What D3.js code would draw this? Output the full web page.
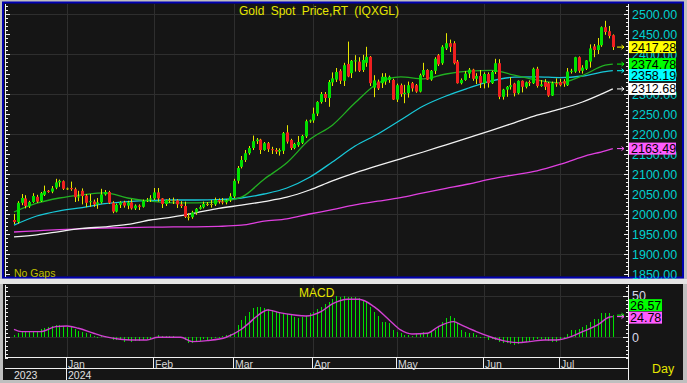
<!DOCTYPE html>
<html>
<head>
<meta charset="utf-8">
<script src="https://cdn.jsdelivr.net/npm/d3@7"></script>
<style>
  body { margin: 0; background: #bfbfbf; overflow: hidden; }
  svg { display: block; font-family: Arial, 'Liberation Sans', sans-serif; }
</style>
</head>
<body>
<div id="chart"></div>
<script>
// ---- data ----
const open = [1985,1980,2028,2039,2019,2030,2043,2032,2048,2058,2056,2066,2079,2082,2063,2065,2062,2042,2058,2046,
  2030,2031,2024,2029,2049,2055,2028,2006,2023,2029,2021,2029,2014,2021,2018,2033,2036,2039,2054,2039,
  2025,2035,2034,2034,2024,2020,1993,1992,2004,2013,2017,2025,2025,2024,2035,2031,2029,2034,2044,2083,
  2118,2135,2152,2165,2182,2186,2160,2177,2162,2160,2156,2158,2204,2185,2165,2172,2178,2194,2232,2234,
  2251,2280,2300,2290,2329,2336,2358,2333,2375,2352,2382,2381,2360,2378,2393,2316,2331,2327,2331,2335,
  2335,2286,2322,2300,2302,2327,2322,2306,2347,2360,2336,2358,2397,2377,2414,2427,2427,2381,2327,2335,
  2351,2361,2338,2345,2327,2350,2327,2355,2377,2293,2311,2318,2326,2302,2333,2318,2330,2327,2363,2320,
  2330,2327,2296,2327,2330,2332,2322,2356,2356,2392,2358,2363,2381,2419,2410,2422,2467,2457,2447];
const high = [2000,2032,2050,2047,2033,2052,2048,2055,2071,2060,2070,2088,2086,2084,2066,2081,2066,2058,2064,2050,
  2050,2036,2040,2063,2060,2058,2032,2026,2032,2033,2033,2037,2024,2024,2036,2040,2047,2065,2065,2040,
  2036,2040,2041,2037,2032,2031,2002,2008,2015,2022,2031,2030,2035,2041,2039,2040,2037,2052,2088,2120,
  2145,2160,2170,2196,2190,2188,2180,2180,2168,2165,2164,2205,2222,2188,2178,2195,2198,2236,2236,2266,
  2282,2305,2305,2335,2354,2365,2362,2378,2431,2385,2397,2392,2398,2418,2395,2347,2336,2352,2352,2346,
  2338,2326,2326,2323,2331,2330,2325,2351,2378,2362,2360,2392,2400,2422,2452,2436,2432,2385,2339,2357,
  2365,2363,2352,2360,2354,2354,2358,2388,2387,2313,2320,2342,2328,2334,2334,2331,2334,2366,2368,2335,
  2337,2330,2331,2339,2338,2337,2365,2363,2393,2394,2372,2385,2424,2425,2440,2469,2483,2470,2449];
const low = [1975,1976,2022,2014,2015,2028,2028,2030,2045,2053,2052,2062,2068,2060,2060,2058,2030,2032,2024,2017,
  2018,2018,2013,2026,2046,2025,2002,2004,2015,2016,2012,2011,2010,2010,2016,2030,2030,2035,2031,2015,
  2020,2028,2025,2015,2015,1990,1984,1988,1998,2011,2014,2020,2016,2020,2026,2024,2024,2030,2040,2076,
  2114,2130,2148,2160,2175,2150,2158,2155,2150,2150,2146,2150,2176,2160,2162,2168,2175,2190,2228,2228,
  2245,2276,2280,2268,2320,2330,2325,2320,2342,2340,2356,2355,2355,2368,2320,2292,2310,2315,2323,2328,
  2285,2280,2293,2277,2291,2306,2303,2304,2343,2335,2333,2350,2370,2373,2410,2405,2374,2326,2324,2333,
  2340,2333,2325,2315,2314,2316,2325,2350,2287,2286,2293,2311,2294,2299,2304,2314,2320,2325,2316,2318,
  2310,2293,2295,2318,2319,2318,2320,2351,2353,2353,2351,2360,2366,2392,2400,2418,2448,2439,2410];
const close = [1980,2028,2040,2020,2030,2045,2031,2052,2057,2055,2064,2079,2083,2063,2064,2062,2042,2044,2045,2028,
  2032,2024,2029,2049,2055,2028,2006,2023,2029,2021,2029,2014,2021,2018,2033,2036,2039,2054,2039,2025,
  2035,2034,2034,2024,2020,1993,1992,2004,2013,2017,2025,2025,2024,2035,2031,2029,2034,2044,2083,2115,
  2135,2152,2165,2182,2186,2160,2177,2162,2160,2156,2160,2202,2181,2165,2175,2180,2195,2232,2234,2251,
  2280,2300,2290,2330,2339,2355,2333,2372,2344,2383,2384,2358,2385,2393,2327,2334,2314,2343,2343,2343,
  2286,2322,2300,2303,2322,2314,2306,2347,2360,2336,2358,2388,2374,2418,2427,2418,2377,2327,2335,2351,
  2361,2338,2345,2327,2350,2327,2355,2377,2293,2311,2318,2322,2302,2333,2318,2329,2327,2363,2320,2324,
  2318,2296,2327,2324,2322,2326,2356,2358,2392,2358,2366,2384,2414,2410,2422,2467,2455,2445,2417.28];

// moving averages, read at these bar positions
const maIdx = [0,6,12,18,24,30,36,42,48,54,60,66,72,78,84,90,96,102,108,114,120,126,132,138,144,150,156,158];
const maGreen = [2005,2027,2040,2048,2053,2040,2032,2028,2028,2031,2042,2087,2128,2186,2222,2278,2327,2343,2338,2350,2357,2359,2347,2335,2328,2346,2372,2374.78];
const maCyan = [1972,1995,2008,2016,2026,2031,2034,2035,2035,2036,2040,2050,2065,2092,2130,2170,2200,2235,2270,2295,2315,2333,2342,2343,2341,2345,2356,2358.19];
const maWhite = [1943,1948,1956,1964,1968,1974,1985,1993,2003,2014,2022,2031,2042,2060,2083,2103,2121,2138,2155,2173,2191,2209,2228,2247,2262,2280,2304,2312.68];
const maMagenta = [1955,1958,1961,1963,1965,1966,1967,1968,1968,1969,1972,1982,1988,2000,2011,2023,2032,2041,2053,2064,2075,2088,2098,2108,2124,2143,2158,2163.49];

// MACD histogram (one per bar) and signal line
const macd = [2.8,4.8,6.8,6.8,6.8,6.8,6.8,9.6,10.8,12.8,
  14,14.8,14.8,14,12.8,12,10,8,6,4.8,
  3.6,1.6,0,1.6,1.6,0.8,-3.2,-3.2,-2.4,-5.2,
  -3.2,-5.2,-4.4,-4.4,-3.2,-2.4,-1.6,0,2.8,1.6,
  1.6,1.6,1.6,0.8,-1.2,-3.2,-6.4,-7.2,-5.2,-4,
  -2.4,-3.2,-2.4,0,0.8,1.6,2.8,4,6.8,14.8,
  20.8,25.6,30.8,34.8,36.8,36,34.8,33.6,32.8,30.8,
  28.8,28.8,28,26.8,24.8,22.8,24,25.6,28.8,30.8,
  33.6,36.8,40,42.8,45.6,49.6,48.8,49.6,48.8,48,
  48,46.8,44.8,42.8,36.8,30.8,25.6,18.8,18.8,16.8,
  8.8,6.8,4.8,2.8,2.8,1.6,4,4.8,6.8,5.6,
  6.8,8.8,12.8,18.8,22.8,25.6,22.8,16.8,8.8,6.8,
  4.8,4.8,2.8,0.8,-1.2,-3.2,-2.4,-3.2,-5.2,-6.4,
  -7.2,-8,-9.2,-8,-5.2,-5.2,-4,-3.2,-2.4,-2.4,
  -3.2,-4.4,-5.2,-5.2,-3.2,0.8,4,8.8,8.8,9.6,
  12.8,14.8,18.8,21.6,21.6,28.8,29.6,28.8,26.57];
const sigIdx = [0,2,7,11,14,17,21,24,28,31,35,38,44,47,51,56,60,62,64,67,70,74,77,81,84,88,91,95,99,102,105,109,112,116,118,122,126,129,133,136,140,143,147,150,154,157,158];
const sigVal = [9.6,6.8,6.8,12.8,13.6,10.8,4.8,0.8,-2.4,-3.2,-3.2,0,0,-5.2,-4,0,9.6,17,25,32.8,29.6,26.8,25.6,30.8,40,45.6,45.6,36.8,20.8,8.8,4,4.8,12.8,18.8,14.8,6.8,0,-4,-6.4,-5.2,-3.2,-3.2,0.8,6.8,14.8,24,24.78];

const priceTicks = d3.range(1850, 2501, 50);
const monthLabels = ['Jan', 'Feb', 'Mar', 'Apr', 'May', 'Jun', 'Jul'];
const yearLabels = ['2023', '2024'];

// trading days (weekdays, no gaps)
const days = d3.timeDay.range(new Date(2023, 11, 12), new Date(2024, 6, 20))
  .filter((d) => d.getDay() % 6 !== 0);
const n = days.length;

// ---- layout ----
const W = 687, H = 383;
const svg = d3.select('#chart').append('svg').attr('width', W).attr('height', H);

const x = d3.scaleLinear().domain([0, n - 1]).range([14, 612.8]);
const xr = (i) => Math.round(x(i));
const y = d3.scaleLinear().domain([1845, 2525]).range([276, 4]);
const yM = d3.scaleLinear().domain([-25, 63]).range([358.1, 284.8]);
const zeroY = Math.round(yM(0));

// month starts
const monthStarts = [];
days.forEach((d, i) => {
  if (i > 0 && d.getMonth() !== days[i - 1].getMonth()) monthStarts.push(i);
});

// backgrounds / frames
svg.append('rect').attr('x', 3).attr('y', 2).attr('width', 680).attr('height', 276).attr('fill', '#151515');
svg.append('rect').attr('x', 3).attr('y', 2.5).attr('width', 680).attr('height', 275)
  .attr('fill', 'none').attr('stroke', '#0000b0').attr('stroke-width', 2);
svg.append('rect').attr('x', 0).attr('y', 279).attr('width', W).attr('height', 5).attr('fill', '#e4e4e4');
svg.append('rect').attr('x', 3).attr('y', 284).attr('width', 680).attr('height', 96).attr('fill', '#151515');

const defs = svg.append('defs');
defs.append('clipPath').attr('id', 'cp').append('rect').attr('x', 6).attr('y', 4).attr('width', 622).attr('height', 272);
defs.append('clipPath').attr('id', 'cm').append('rect').attr('x', 6).attr('y', 285).attr('width', 622).attr('height', 72);

// ---- price panel ----
const g = svg.append('g').attr('clip-path', 'url(#cp)');

g.selectAll('.hgrid').data(d3.range(1900, 2501, 100)).join('line')
  .attr('x1', 6).attr('x2', 628).attr('y1', (d) => Math.round(y(d)) + 0.5).attr('y2', (d) => Math.round(y(d)) + 0.5)
  .attr('stroke', '#2e2e2e');
g.selectAll('.vgrid').data(monthStarts).join('line')
  .attr('x1', (d) => xr(d) + 0.5).attr('x2', (d) => xr(d) + 0.5).attr('y1', 4).attr('y2', 277)
  .attr('stroke', '#2e2e2e');

const maLine = (vals) => d3.line().x((d, k) => x(maIdx[k])).y((d) => y(d)).curve(d3.curveMonotoneX)(vals);
[[maMagenta, '#e040e0'], [maWhite, '#f2f2f2'], [maCyan, '#18c8d8'], [maGreen, '#22b022']].forEach(([vals, col]) => {
  g.append('path').attr('d', maLine(vals)).attr('fill', 'none').attr('stroke', col).attr('stroke-width', 1.3);
});

const idx = d3.range(n);
g.selectAll('.wick').data(idx).join('line')
  .attr('x1', (i) => xr(i) + 0.5).attr('x2', (i) => xr(i) + 0.5)
  .attr('y1', (i) => y(high[i])).attr('y2', (i) => y(low[i]))
  .attr('stroke', '#e6e600').attr('stroke-width', 1);
g.selectAll('.body').data(idx).join('rect')
  .attr('x', (i) => xr(i) - 1).attr('width', 3)
  .attr('y', (i) => y(Math.max(open[i], close[i])))
  .attr('height', (i) => Math.max(1, Math.abs(y(open[i]) - y(close[i]))))
  .attr('fill', (i) => Math.abs(close[i] - open[i]) < 2 ? '#9a9a00' : close[i] > open[i] ? '#00e000' : '#f02020');

// left axis
svg.append('line').attr('x1', 5.5).attr('x2', 5.5).attr('y1', 4).attr('y2', 277).attr('stroke', '#f0f0f0');
svg.selectAll('.ltick').data(d3.range(1850, 2521, 10)).join('line')
  .attr('x1', 5).attr('x2', (d) => d % 50 === 0 ? 10 : 8)
  .attr('y1', (d) => Math.round(y(d)) + 0.5).attr('y2', (d) => Math.round(y(d)) + 0.5)
  .attr('stroke', '#f0f0f0');

// right axis
svg.append('line').attr('x1', 628.5).attr('x2', 628.5).attr('y1', 4).attr('y2', 277).attr('stroke', '#f0f0f0');
svg.selectAll('.rtick').data(d3.range(1850, 2521, 10)).join('line')
  .attr('x1', 629).attr('x2', (d) => d % 50 === 0 ? 624 : 626)
  .attr('y1', (d) => Math.round(y(d)) + 0.5).attr('y2', (d) => Math.round(y(d)) + 0.5)
  .attr('stroke', '#f0f0f0');
svg.selectAll('.rlab').data(priceTicks).join('text')
  .attr('x', 632).attr('y', (d) => y(d) + 4.5)
  .attr('fill', '#00d0d0').style('font-size', '12.5px')
  .text((d) => d.toFixed(2));

// last-value tags
const tags = [
  { v: close[n - 1], c: '#ffff00' },
  { v: maGreen[maGreen.length - 1], c: '#00ff00' },
  { v: maCyan[maCyan.length - 1], c: '#00ffff' },
  { v: maWhite[maWhite.length - 1], c: '#ffffff' },
  { v: maMagenta[maMagenta.length - 1], c: '#ff5cff' },
];
let lastY = -100;
tags.forEach((t) => {
  t.y = y(t.v);
  t.ty = Math.max(t.y, lastY + 11);
  lastY = t.ty;
});
const tg = svg.selectAll('.tag').data(tags).join('g');
tg.append('path')
  .attr('d', (t) => `M617,${t.y}H624M621.5,${t.y - 2}L624,${t.y}L621.5,${t.y + 2}`)
  .attr('stroke', (t) => t.c).attr('fill', 'none');
tg.append('rect').attr('x', 629).attr('y', (t) => t.ty - 6).attr('width', 47).attr('height', 12).attr('fill', (t) => t.c);
tg.append('text').attr('x', 631).attr('y', (t) => t.ty + 4.5)
  .attr('fill', '#000').style('font-size', '12.5px').text((t) => t.v.toFixed(2));

svg.append('text').attr('x', 239).attr('y', 15).attr('fill', '#e6e600')
  .style('font-size', '12px').style('word-spacing', '3px').text('Gold Spot Price,RT (IQXGL)');
svg.append('text').attr('x', 14).attr('y', 277).attr('fill', '#c0c000')
  .style('font-size', '10.5px').text('No Gaps');

// ---- MACD panel ----
const m = svg.append('g').attr('clip-path', 'url(#cm)');
m.selectAll('.mh').data([0, 50]).join('line')
  .attr('x1', 6).attr('x2', 628).attr('y1', (d) => Math.round(yM(d)) + 0.5).attr('y2', (d) => Math.round(yM(d)) + 0.5)
  .attr('stroke', '#2e2e2e');
m.selectAll('.mv').data(monthStarts).join('line')
  .attr('x1', (d) => xr(d) + 0.5).attr('x2', (d) => xr(d) + 0.5).attr('y1', 285).attr('y2', 357)
  .attr('stroke', '#2e2e2e');
m.selectAll('.bar').data(idx).join('rect')
  .attr('x', (i) => xr(i)).attr('width', 1)
  .attr('y', (i) => Math.min(zeroY, Math.round(yM(macd[i]))))
  .attr('height', (i) => Math.max(1, Math.abs(Math.round(yM(macd[i])) - zeroY)))
  .attr('fill', '#00e000').attr('shape-rendering', 'crispEdges');
m.append('path')
  .attr('d', d3.line().x((d, k) => x(sigIdx[k])).y((d) => yM(d)).curve(d3.curveMonotoneX)(sigVal))
  .attr('fill', 'none').attr('stroke', '#d040d0').attr('stroke-width', 1.4);

svg.append('text').attr('x', 299).attr('y', 297).attr('fill', '#e6e600').style('font-size', '12px').text('MACD');

// MACD axes
svg.append('line').attr('x1', 5.5).attr('x2', 5.5).attr('y1', 285).attr('y2', 357).attr('stroke', '#f0f0f0');
svg.selectAll('.mlt').data(d3.range(-25, 61, 5)).join('line')
  .attr('x1', 5).attr('x2', (d) => d % 50 === 0 ? 10 : 8)
  .attr('y1', (d) => Math.round(yM(d)) + 0.5).attr('y2', (d) => Math.round(yM(d)) + 0.5)
  .attr('stroke', '#f0f0f0');
svg.append('line').attr('x1', 628.5).attr('x2', 628.5).attr('y1', 285).attr('y2', 380).attr('stroke', '#f0f0f0');
svg.selectAll('.mrt').data(d3.range(-25, 61, 5)).join('line')
  .attr('x1', 629).attr('x2', (d) => d % 50 === 0 ? 623 : 626)
  .attr('y1', (d) => Math.round(yM(d)) + 0.5).attr('y2', (d) => Math.round(yM(d)) + 0.5)
  .attr('stroke', '#f0f0f0');
svg.selectAll('.mlab').data([0, 50]).join('text')
  .attr('x', 632).attr('y', (d) => yM(d) + 4.5).attr('fill', '#d8d8e8').style('font-size', '12.5px').text((d) => d);

const mTags = [
  { v: macd[n - 1], c: '#00ff00' },
  { v: sigVal[sigVal.length - 1], c: '#ff5cff' },
];
mTags[1].ty = yM(mTags[1].v) + 1;
mTags[0].ty = mTags[1].ty - 12.5;
const mg = svg.selectAll('.mtag').data(mTags).join('g');
mg.append('path')
  .attr('d', (t) => `M617,${yM(t.v)}H624M621.5,${yM(t.v) - 2}L624,${yM(t.v)}L621.5,${yM(t.v) + 2}`)
  .attr('stroke', (t) => t.c).attr('fill', 'none');
mg.append('rect').attr('x', 629).attr('y', (t) => t.ty - 6).attr('width', 33).attr('height', 12).attr('fill', (t) => t.c);
mg.append('text').attr('x', 630).attr('y', (t) => t.ty + 4.5)
  .attr('fill', '#000').style('font-size', '12.5px').text((t) => t.v.toFixed(2));

// ---- time axis ----
svg.append('line').attr('x1', 5).attr('x2', 628).attr('y1', 357.5).attr('y2', 357.5).attr('stroke', '#f0f0f0');
svg.append('line').attr('x1', 5).attr('x2', 628).attr('y1', 368.5).attr('y2', 368.5).attr('stroke', '#f0f0f0');
svg.selectAll('.msep').data(monthStarts).join('line')
  .attr('x1', (d) => xr(d) - 0.5).attr('x2', (d) => xr(d) - 0.5)
  .attr('y1', 357).attr('y2', (d, k) => k === 0 ? 383 : 368)
  .attr('stroke', '#f0f0f0');
svg.selectAll('.mlabel').data(monthStarts).join('text')
  .attr('x', (d) => xr(d) + 1).attr('y', 367.5)
  .attr('fill', '#d8d8d8').style('font-size', '10.5px')
  .text((d, k) => monthLabels[k]);
svg.selectAll('.ylabel').data(yearLabels).join('text')
  .attr('x', (d, k) => k === 0 ? 14 : xr(monthStarts[0]) + 1).attr('y', 378.5)
  .attr('fill', '#e0e0e0').style('font-size', '10.5px').text((d) => d);

svg.append('text').attr('x', 652).attr('y', 373).attr('fill', '#e6e600').style('font-size', '12.5px').text('Day');

// bottom frame
svg.append('rect').attr('x', 0).attr('y', 380).attr('width', W).attr('height', 3).attr('fill', '#bfbfbf');
</script>
</body>
</html>
